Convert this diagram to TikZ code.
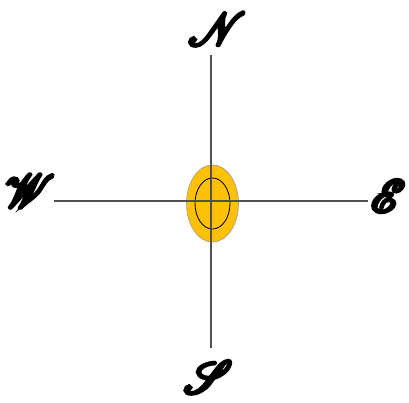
\documentclass[tikz,border=0pt]{standalone}
\usepackage{mathrsfs}
\usetikzlibrary{positioning,shapes.geometric}
\definecolor{sun}{RGB}{255,193,7}
\definecolor{rim}{RGB}{150,150,150}
\definecolor{axis}{RGB}{80,80,80}
\newcommand{\fatscr}[1]{\special{pdf:literal direct 2 Tr 0.8 w}$\mathscr{#1}$\special{pdf:literal direct 0 Tr}}
\tikzset{
  dir/.style={inner sep=0pt,scale=3.25},
  axisline/.style={draw=axis,line width=0.5mm},
}
\begin{document}
\begin{tikzpicture}[x=0.25mm,y=-0.25mm]
  \useasboundingbox (0,0) rectangle (409,402);
  % center point and arm ends
  \coordinate (c) at (211,201);
  \coordinate (n) at (211,55);
  \coordinate (s) at (211,348);
  \coordinate (w) at (54,201);
  \coordinate (e) at (368,201);
  % badge
  \node[ellipse,draw=rim,fill=sun,minimum width=13mm,minimum height=19.3mm,inner sep=0pt] (badge) at (212.5,203.5) {};
  \node[ellipse,draw=black,semithick,minimum width=8.75mm,minimum height=12.75mm,inner sep=0pt] (core) at (212.5,203.5) {};
  \draw[axisline] (n) -- (s);
  \draw[axisline] (w) -- (e);
  % labels
  \node[dir] (north) at (217,29) {\fatscr{N}};
  \node[dir] (south) at (208,377) {\fatscr{S}};
  \node[dir] (west) at (30,191) {\fatscr{W}};
  \node[dir] (east) at (388,196) {\fatscr{E}};
\end{tikzpicture}
\end{document}
